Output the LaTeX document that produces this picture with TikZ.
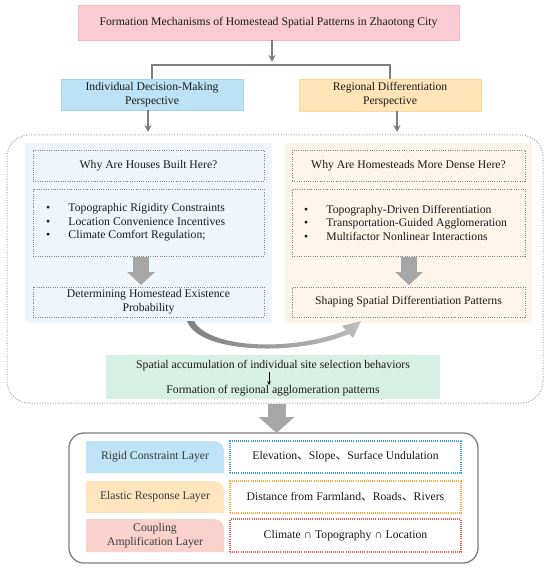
\documentclass[tikz,border=0pt]{standalone}
\usepackage{fontspec}
\setmainfont{Liberation Serif}
\newfontfamily\cjk{Noto Sans CJK SC}
\usetikzlibrary{arrows.meta}
\definecolor{titlefill}{HTML}{F9CBD3}
\definecolor{titledraw}{HTML}{F5B8C4}
\definecolor{bluefill}{HTML}{BDE2F5}
\definecolor{bluedraw}{HTML}{A3D5F0}
\definecolor{orfill}{HTML}{FFE4B8}
\definecolor{ordraw}{HTML}{FFD894}
\definecolor{lpanelfill}{HTML}{EEF6FC}
\definecolor{rpanelfill}{HTML}{FDF5EA}
\definecolor{greenfill}{HTML}{D6F0E4}
\definecolor{rigidfill}{HTML}{BEE3F6}
\definecolor{elasticfill}{HTML}{FEE5BE}
\definecolor{couplefill}{HTML}{F9D2CB}
\definecolor{dotblue}{HTML}{3AA0E5}
\definecolor{dotorange}{HTML}{FFA733}
\definecolor{dotred}{HTML}{F0594A}
\definecolor{dotgray}{HTML}{808080}
\definecolor{outergray}{HTML}{A6A6A6}
\definecolor{arrgray}{HTML}{7F7F7F}
\definecolor{blockgray}{HTML}{A6A6A6}
\definecolor{swooshlight}{HTML}{BDBDBD}
\definecolor{txt}{HTML}{1A1A1A}
\definecolor{labeltxt}{HTML}{3A3A3A}
\tikzset{
  base/.style={inner sep=0pt, outer sep=0pt, align=center, text=txt},
  solidbox/.style={base, line width=0.8pt},
  innerdot/.style={base, draw=dotgray, line width=0.9pt, dash pattern=on 0.9pt off 1.4pt},
  outerdot/.style={base, draw=outergray, line width=1pt, dash pattern=on 1pt off 1.6pt, rounded corners=22pt},
  thinarrow/.style={draw=arrgray, line width=1.2pt, -{Stealth[length=7pt,width=7pt]}},
  plainline/.style={draw=arrgray, line width=1.2pt},
  blockarrow/.style={draw=blockgray, line width=16pt, -{Triangle[length=13pt,width=27pt]}},
  bigblock/.style={draw=blockgray, line width=18pt, -{Triangle[length=16pt,width=35pt]}},
  colordot/.style={base, line width=1.2pt, dash pattern=on 1pt off 1.1pt},
  layertext/.style={base, text=labeltxt}
}
\begin{document}
\begin{tikzpicture}[x=1pt,y=-1pt, font=\fontsize{11.7}{14}\selectfont]
\useasboundingbox (0,0) rectangle (550,569);
\fill[white] (0,0) rectangle (550,569);

% title and perspectives
\node[solidbox, fill=titlefill, draw=titledraw, minimum width=381pt, minimum height=35pt] (title) at (268.5,22.5)
  {Formation Mechanisms of Homestead Spatial Patterns in Zhaotong City};
\node[solidbox, fill=bluefill, draw=bluedraw, minimum width=182pt, minimum height=31pt] (indiv) at (152,94.5)
  {Individual Decision-Making\\Perspective};
\node[solidbox, fill=orfill, draw=ordraw, minimum width=182pt, minimum height=32pt] (regio) at (390,95)
  {Regional Differentiation\\Perspective};

\draw[thinarrow] ([xshift=3.5pt]title.south) -- ([xshift=3.5pt,yshift=-22pt]title.south);
\draw[plainline] (indiv.north) -- ++(0,-14) -| (regio.north);

% outer dotted region
\node[outerdot, minimum width=536pt, minimum height=268pt] (outer) at (275,269) {};
\draw[thinarrow] ([xshift=-4pt]indiv.south) -- ([xshift=-4pt,yshift=3pt]indiv.south |- outer.north);
\draw[thinarrow] ([xshift=7pt]regio.south) -- ([xshift=7pt,yshift=3pt]regio.south |- outer.north);

% panels
\node[base, fill=lpanelfill, minimum width=247pt, minimum height=180pt] (lpanel) at (148.5,233) {};
\node[base, fill=rpanelfill, minimum width=247pt, minimum height=180pt] (rpanel) at (408.5,233) {};

\node[innerdot, minimum width=231pt, minimum height=31pt] (lq) at (148.5,165.5) {Why Are Houses Built Here?};
\node[innerdot, minimum width=231pt, minimum height=67pt] (lb) at (148.5,222.5) {};
\node[base, anchor=west, align=left, font=\fontsize{11.7}{13.5}\selectfont] (lbt) at (46,222.5)
  {\makebox[22.5pt][l]{\textbullet}Topographic Rigidity Constraints\\
   \makebox[22.5pt][l]{\textbullet}Location Convenience Incentives\\
   \makebox[22.5pt][l]{\textbullet}Climate Comfort Regulation;};
\node[innerdot, minimum width=231pt, minimum height=30pt] (ld) at (148.5,302)
  {Determining Homestead Existence\\Probability};

\node[innerdot, minimum width=233pt, minimum height=31pt] (rq) at (408.5,165.5) {Why Are Homesteads More Dense Here?};
\node[innerdot, minimum width=233pt, minimum height=67pt] (rb) at (408.5,222.5) {};
\node[base, anchor=west, align=left, font=\fontsize{11.7}{13.5}\selectfont] (rbt) at (304,222.5)
  {\makebox[22.5pt][l]{\textbullet}Topography-Driven Differentiation\\
   \makebox[22.5pt][l]{\textbullet}Transportation-Guided Agglomeration\\
   \makebox[22.5pt][l]{\textbullet}Multifactor Nonlinear Interactions};
\node[innerdot, minimum width=233pt, minimum height=30pt] (rd) at (408.5,302)
  {Shaping Spatial Differentiation Patterns};

\draw[blockarrow] ([xshift=-7.5pt,yshift=-1pt]lb.south) -- ([xshift=-7.5pt,yshift=2pt]ld.north);
\draw[blockarrow] ([xshift=0.5pt,yshift=-1pt]rb.south) -- ([xshift=0.5pt,yshift=2pt]rd.north);

% swoosh
\shade[left color=arrgray, right color=swooshlight]
  (187,321) .. controls (199,354) and (298,356) .. (349,334)
  -- (353,338) -- (361,321) -- (342,326) -- (346,330)
  .. controls (297,351) and (210,350) .. (194,321) -- cycle;

% green box
\node[base, fill=greenfill, minimum width=334pt, minimum height=44pt] (green) at (273,377) {};
\node[base] (g1) at (273,366) {Spatial accumulation of individual site selection behaviors};
\node[base] (g2) at (273,391) {Formation of regional agglomeration patterns};
\draw[draw=black, line width=0.6pt, -{Stealth[length=4pt,width=3.5pt]}] ([xshift=-4pt,yshift=-1pt]g1.south) -- ([xshift=-4pt,yshift=0.5pt]g2.north);

% bottom block
\node[base, draw=arrgray, line width=1.3pt, rounded corners=15pt, minimum width=409pt, minimum height=130pt] (bottom) at (273.5,498) {};
\draw[bigblock] ([xshift=1.5pt,yshift=-1pt]outer.south) -- ([xshift=1.5pt]outer.south |- bottom.north);

\fill[rigidfill] (86,473) -- (86,441) [rounded corners=10pt] -- (224,441) [sharp corners] -- (224,473) -- cycle;
\fill[elasticfill] (86,513) -- (86,481) [rounded corners=10pt] -- (224,481) [sharp corners] -- (224,513) -- cycle;
\fill[couplefill] (86,552) -- (86,519) [rounded corners=10pt] -- (224,519) [sharp corners] -- (224,552) -- cycle;
\node[layertext] (rigid) at (155,457) {Rigid Constraint Layer};
\node[layertext] (elastic) at (155,497) {Elastic Response Layer};
\node[layertext, font=\fontsize{11.7}{13.5}\selectfont] (couple) at (155,535.5) {Coupling\\Amplification Layer};

\node[colordot, draw=dotblue, minimum width=231pt, minimum height=32pt] (rigidv) at (345.5,457)
  {Elevation{\cjk 、}Slope{\cjk 、}Surface Undulation};
\node[colordot, draw=dotorange, minimum width=231pt, minimum height=32pt] (elasticv) at (345.5,497)
  {Distance from Farmland{\cjk 、}Roads{\cjk 、}Rivers};
\node[colordot, draw=dotred, minimum width=231pt, minimum height=33pt] (couplev) at (345.5,535.5)
  {Climate ∩ Topography ∩ Location};
\end{tikzpicture}
\end{document}
